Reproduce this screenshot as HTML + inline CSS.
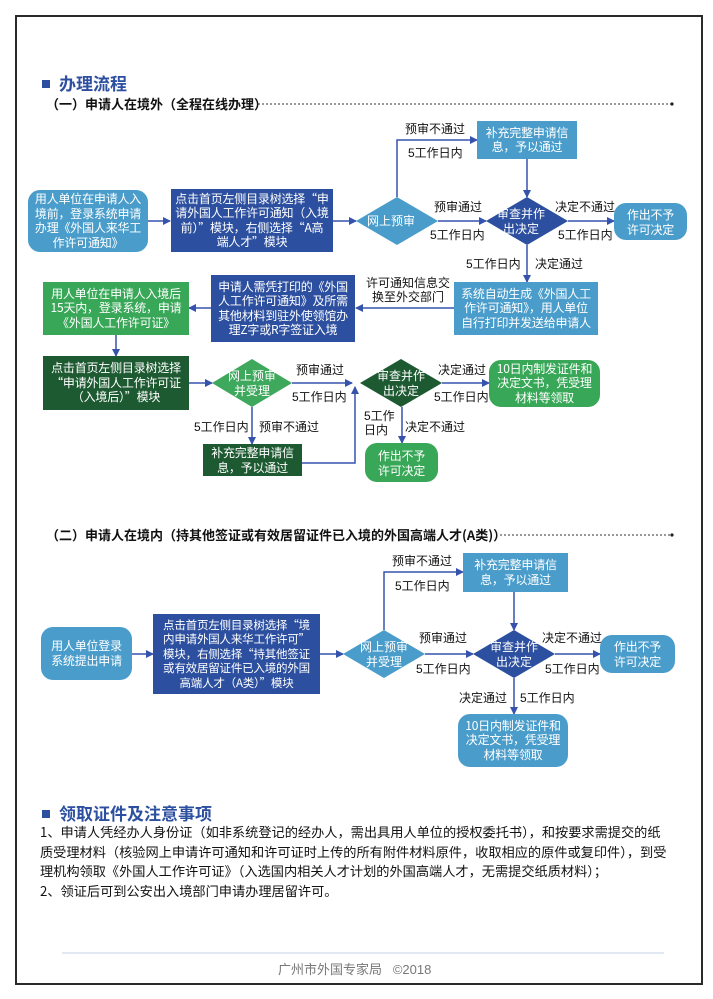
<!DOCTYPE html>
<html><head><meta charset="utf-8">
<style>
body{margin:0;background:#fff;}
#p{position:relative;width:713px;height:999px;overflow:hidden;background:#fff;font-family:"Liberation Sans","Noto Sans CJK SC",sans-serif;}
.frame{position:absolute;left:15px;top:15px;width:684px;height:966px;border:2px solid #2a2a2a;}
.b{position:absolute;display:flex;align-items:center;justify-content:center;text-align:center;color:#fff;font-size:12px;line-height:14.5px;box-sizing:border-box;padding:0;white-space:nowrap;font-family:"Noto Sans CJK SC",sans-serif;letter-spacing:-0.2px;}
.lb{background:#4a9dcb;}
.db{background:#2c4f9f;}
.gb{background:#38a757;}
.dg{background:#1d5a31;}
.r{border-radius:12px;}
.l{position:absolute;font-size:12px;line-height:16px;color:#111;white-space:nowrap;}
.h{position:absolute;font-size:17px;font-weight:bold;color:#2c4f9f;white-space:nowrap;}
.sq{display:inline-block;width:8px;height:8px;background:#2c4f9f;margin-right:9px;vertical-align:2px;}
.s{position:absolute;font-size:13px;font-weight:bold;color:#111;white-space:nowrap;font-family:"Noto Sans CJK SC",sans-serif;}
.para{position:absolute;left:40px;top:822px;font-size:13.2px;line-height:19.6px;color:#111;white-space:nowrap;font-family:"Noto Sans CJK SC",sans-serif;}
.dt{position:absolute;color:#fff;font-size:12px;line-height:14.5px;text-align:center;white-space:nowrap;}
</style></head><body>
<div id="p">
<div class="frame"></div>
<svg width="713" height="999" style="position:absolute;left:0;top:0">
<defs>
<marker id="a" markerWidth="8" markerHeight="8" refX="7" refY="4" orient="auto" markerUnits="userSpaceOnUse">
<path d="M0,0 L8,4 L0,8 z" fill="#3553ad"/></marker>
</defs>
<line x1="62" y1="953" x2="664" y2="953" stroke="#e3e9f3" stroke-width="2"/>
<g stroke="#333" stroke-width="1" stroke-dasharray="2,2"><line x1="258" y1="104" x2="671" y2="104"/><line x1="500" y1="535" x2="671" y2="535"/></g>
<circle cx="672" cy="104" r="1.6" fill="#222"/><circle cx="672" cy="535" r="1.6" fill="#222"/>
<polygon points="397,197 438,221 397,245 356,221" fill="#4a9dcb"/>
<polygon points="527,197 568,221 527,245 486,221" fill="#2c4f9f"/>
<polygon points="252,359 292,383 252,407 212,383" fill="#3ea85c"/>
<polygon points="401,359 442,383 401,407 360,383" fill="#1d5a31"/>
<polygon points="384,630 425,654 384,678 343,654" fill="#4a9dcb"/>
<polygon points="514,630 555,654 514,678 473,654" fill="#2c4f9f"/>
<g stroke="#3553ad" stroke-width="1.5" fill="none" marker-end="url(#a)">
<line x1="148" y1="221" x2="170" y2="221"/>
<line x1="333" y1="221" x2="356" y2="221"/>
<polyline points="397,197 397,140 477,140"/>
<line x1="438" y1="221" x2="486" y2="221"/>
<line x1="527" y1="159" x2="527" y2="197"/>
<line x1="568" y1="221" x2="614" y2="221"/>
<line x1="527" y1="245" x2="527" y2="282"/>
<line x1="454" y1="308" x2="356" y2="308"/>
<line x1="211" y1="308" x2="189" y2="308"/>
<line x1="116" y1="335" x2="116" y2="356"/>
<line x1="189" y1="383" x2="212" y2="383"/>
<line x1="292" y1="383" x2="352" y2="383"/>
<polyline points="302,463 355,463 355,387"/>
<line x1="442" y1="383" x2="489" y2="383"/>
<line x1="252" y1="407" x2="252" y2="444"/>
<line x1="402" y1="407" x2="402" y2="443"/>
<line x1="132" y1="654" x2="153" y2="654"/>
<line x1="320" y1="654" x2="343" y2="654"/>
<polyline points="384,630 384,572 463,572"/>
<line x1="425" y1="654" x2="473" y2="654"/>
<line x1="514" y1="592" x2="514" y2="630"/>
<line x1="555" y1="654" x2="600" y2="654"/>
<line x1="514" y1="678" x2="514" y2="714"/>
</g>
</svg>

<div class="h" style="left:42px;top:70px"><span class="sq"></span>办理流程</div>
<div class="s" style="left:46px;top:94px">（一）申请人在境外（全程在线办理）</div>

<div class="b lb r" style="left:28px;top:190px;width:120px;height:62px">用人单位在申请人入<br>境前，登录系统申请<br>办理《外国人来华工<br>作许可通知》</div>
<div class="b db" style="left:171px;top:189px;width:162px;height:63px">点击首页左侧目录树选择“申<br>请外国人工作许可通知（入境<br>前）”模块，右侧选择“A高<br>端人才”模块</div>
<div class="dt" style="left:367px;top:214px">网上预审</div>
<div class="dt" style="left:497px;top:207px">审查并作<br>出决定</div>
<div class="b lb" style="left:477px;top:121px;width:100px;height:38px">补充完整申请信<br>息，予以通过</div>
<div class="b lb r" style="left:614px;top:203px;width:73px;height:37px;line-height:15px">作出不予<br>许可决定</div>
<div class="l" style="left:405px;top:121px">预审不通过</div>
<div class="l" style="left:408px;top:145px">5工作日内</div>
<div class="l" style="left:434px;top:199px">预审通过</div>
<div class="l" style="left:430px;top:227px">5工作日内</div>
<div class="l" style="left:555px;top:199px">决定不通过</div>
<div class="l" style="left:558px;top:227px">5工作日内</div>
<div class="l" style="left:466px;top:256px">5工作日内</div>
<div class="l" style="left:535px;top:256px">决定通过</div>
<div class="l" style="left:366px;top:276px;line-height:14px;text-align:center">许可通知信息交<br>换至外交部门</div>
<div class="b lb" style="left:454px;top:282px;width:144px;height:53px">系统自动生成《外国人工<br>作许可通知》，用人单位<br>自行打印并发送给申请人</div>
<div class="b db" style="left:211px;top:275px;width:144px;height:67px">申请人需凭打印的《外国<br>人工作许可通知》及所需<br>其他材料到驻外使领馆办<br>理Z字或R字签证入境</div>
<div class="b gb" style="left:43px;top:282px;width:146px;height:53px">用人单位在申请人入境后<br>15天内，登录系统，申请<br>《外国人工作许可证》</div>
<div class="b dg" style="left:43px;top:356px;width:146px;height:54px">点击首页左侧目录树选择<br>“申请外国人工作许可证<br>（入境后）”模块</div>
<div class="dt" style="left:228px;top:369px">网上预审<br>并受理</div>
<div class="dt" style="left:377px;top:369px">审查并作<br>出决定</div>
<div class="l" style="left:296px;top:362px">预审通过</div>
<div class="l" style="left:292px;top:389px">5工作日内</div>
<div class="l" style="left:438px;top:362px">决定通过</div>
<div class="l" style="left:434px;top:389px">5工作日内</div>
<div class="b gb r" style="left:489px;top:360px;width:111px;height:47px">10日内制发证件和<br>决定文书，凭受理<br>材料等领取</div>
<div class="l" style="left:194px;top:419px">5工作日内</div>
<div class="l" style="left:259px;top:419px">预审不通过</div>
<div class="l" style="left:364px;top:409px;line-height:14px">5工作<br>日内</div>
<div class="l" style="left:405px;top:419px">决定不通过</div>
<div class="b dg" style="left:203px;top:444px;width:99px;height:32px;line-height:15px">补充完整申请信<br>息，予以通过</div>
<div class="b gb r" style="left:365px;top:443px;width:73px;height:39px;line-height:15px">作出不予<br>许可决定</div>

<div class="s" style="left:46px;top:525px">（二）申请人在境内（持其他签证或有效居留证件已入境的外国高端人才(A类)）</div>
<div class="b lb" style="left:463px;top:553px;width:105px;height:39px">补充完整申请信<br>息，予以通过</div>
<div class="l" style="left:392px;top:553px">预审不通过</div>
<div class="l" style="left:395px;top:578px">5工作日内</div>
<div class="b lb r" style="left:41px;top:627px;width:91px;height:53px">用人单位登录<br>系统提出申请</div>
<div class="b db" style="left:153px;top:614px;width:167px;height:80px;font-size:11.5px">点击首页左侧目录树选择“境<br>内申请外国人来华工作许可”<br>模块，右侧选择“持其他签证<br>或有效居留证件已入境的外国<br>高端人才（A类）”模块</div>
<div class="dt" style="left:360px;top:640px">网上预审<br>并受理</div>
<div class="dt" style="left:490px;top:640px">审查并作<br>出决定</div>
<div class="l" style="left:419px;top:630px">预审通过</div>
<div class="l" style="left:416px;top:661px">5工作日内</div>
<div class="l" style="left:542px;top:630px">决定不通过</div>
<div class="l" style="left:545px;top:661px">5工作日内</div>
<div class="b lb r" style="left:600px;top:635px;width:75px;height:38px;line-height:15px">作出不予<br>许可决定</div>
<div class="l" style="left:459px;top:690px">决定通过</div>
<div class="l" style="left:520px;top:690px">5工作日内</div>
<div class="b lb r" style="left:458px;top:714px;width:110px;height:53px">10日内制发证件和<br>决定文书，凭受理<br>材料等领取</div>

<div class="h" style="left:42px;top:800px"><span class="sq"></span>领取证件及注意事项</div>
<div class="para">1、申请人凭经办人身份证（如非系统登记的经办人，需出具用人单位的授权委托书），和按要求需提交的纸<br>质受理材料（核验网上申请许可通知和许可证时上传的所有附件材料原件，收取相应的原件或复印件），到受<br>理机构领取《外国人工作许可证》（入选国内相关人才计划的外国高端人才，无需提交纸质材料）；<br>2、领证后可到公安出入境部门申请办理居留许可。</div>
<div class="l" style="left:278px;top:962px;color:#777;font-size:13px">广州市外国专家局 &nbsp; ©2018</div>
</div>
</body></html>
